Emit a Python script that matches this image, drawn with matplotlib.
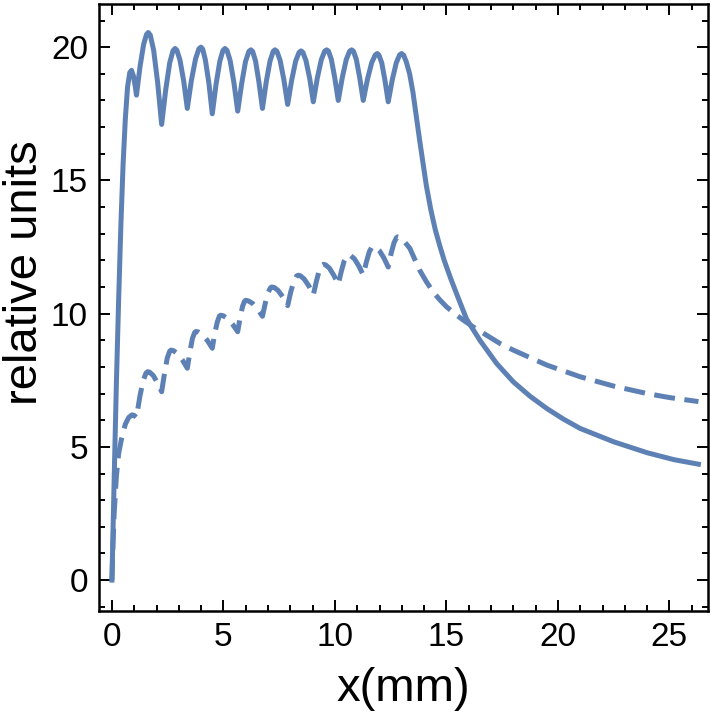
import matplotlib
matplotlib.use("Agg")
import matplotlib.pyplot as plt
from matplotlib.ticker import MultipleLocator

# solid curve
solid_x = [0, 0.1, 0.2, 0.3, 0.4, 0.5, 0.6, 0.7, 0.8, 0.88, 0.97, 1.05, 1.1,
           1.26, 1.42, 1.55, 1.63, 1.72, 1.87, 2.05, 2.23,
           2.41, 2.59, 2.74, 2.83, 2.91, 3.05, 3.22, 3.38,
           3.56, 3.75, 3.90, 3.99, 4.07, 4.19, 4.35, 4.5,
           4.67, 4.84, 4.98, 5.07, 5.16, 5.30, 5.47, 5.64,
           5.82, 5.99, 6.14, 6.23, 6.31, 6.44, 6.59, 6.75,
           6.92, 7.09, 7.23, 7.31, 7.40, 7.54, 7.71, 7.88,
           8.06, 8.24, 8.39, 8.48, 8.56, 8.70, 8.87, 9.03,
           9.21, 9.39, 9.54, 9.63, 9.71, 9.84, 9.99, 10.15,
           10.33, 10.51, 10.66, 10.75, 10.83, 10.96, 11.11, 11.27,
           11.46, 11.65, 11.81, 11.9, 11.97, 12.10, 12.24, 12.39,
           12.57, 12.75, 12.90, 12.99,
           13.08, 13.2, 13.35, 13.5, 13.65, 13.8, 13.95, 14.1, 14.3, 14.5,
           14.7, 14.9, 15.2, 15.5, 15.9, 16.5, 17.25, 18.0, 18.75, 19.5,
           20.25, 21.0, 22.5, 24.0, 25.2, 26.3]
solid_y = [0, 3.8, 7.4, 10.5, 13.3, 15.6, 17.3, 18.5, 19.05, 19.13, 18.9, 18.5, 18.2,
           19.27, 20.10, 20.48, 20.55, 20.45, 19.89, 18.67, 17.1,
           18.39, 19.41, 19.87, 19.95, 19.89, 19.52, 18.72, 17.7,
           18.74, 19.56, 19.94, 20.0, 19.93, 19.52, 18.64, 17.5,
           18.61, 19.48, 19.88, 19.95, 19.88, 19.50, 18.67, 17.6,
           18.64, 19.46, 19.84, 19.9, 19.84, 19.48, 18.70, 17.7,
           18.70, 19.48, 19.84, 19.9, 19.84, 19.51, 18.78, 17.85,
           18.76, 19.48, 19.80, 19.86, 19.81, 19.50, 18.82, 17.95,
           18.84, 19.53, 19.85, 19.9, 19.85, 19.54, 18.86, 18.0,
           18.86, 19.54, 19.85, 19.9, 19.85, 19.54, 18.86, 18.0,
           18.80, 19.42, 19.71, 19.76, 19.71, 19.41, 18.77, 17.95,
           18.77, 19.41, 19.71, 19.76,
           19.70, 19.45, 19.0, 18.3, 17.4, 16.5, 15.65, 14.8, 13.9, 13.15,
           12.55, 12.0, 11.3, 10.65, 9.8, 9.0, 8.13, 7.44, 6.9, 6.44,
           6.04, 5.69, 5.19, 4.78, 4.52, 4.35]

# dashed curve
dashed_x = [0, 0.05, 0.1, 0.2, 0.3, 0.43, 0.6, 0.75, 0.9, 1.0, 1.1,
            1.25, 1.40, 1.53, 1.6, 1.69, 1.85, 2.04, 2.23,
            2.36, 2.48, 2.59, 2.65, 2.76, 2.94, 3.16, 3.38,
            3.50, 3.61, 3.71, 3.77, 3.88, 4.06, 4.28, 4.5,
            4.61, 4.73, 4.82, 4.88, 4.99, 5.18, 5.41, 5.64,
            5.75, 5.86, 5.95, 6.0, 6.11, 6.30, 6.53, 6.75,
            6.88, 7.00, 7.11, 7.17, 7.28, 7.45, 7.67, 7.88,
            8.02, 8.16, 8.28, 8.35, 8.45, 8.62, 8.83, 9.03,
            9.17, 9.30, 9.41, 9.48, 9.58, 9.75, 9.95, 10.15,
            10.29, 10.42, 10.53, 10.6, 10.70, 10.87, 11.07, 11.27,
            11.41, 11.54, 11.65, 11.72, 11.82, 11.99, 12.19, 12.39,
            12.52, 12.65, 12.76, 12.82,
            12.95, 13.1, 13.36, 13.6, 13.8, 14.1, 14.4, 14.7, 15.0, 15.4,
            15.75, 16.2, 16.8, 17.4, 18.0, 19.5, 21.0, 22.5, 24.0, 25.0, 26.3]
dashed_y = [0, 1.4, 2.5, 3.9, 4.75, 5.3, 5.85, 6.1, 6.2, 6.18, 6.1,
            6.88, 7.49, 7.77, 7.82, 7.80, 7.68, 7.41, 7.07,
            7.78, 8.33, 8.59, 8.63, 8.61, 8.50, 8.26, 7.95,
            8.58, 9.07, 9.29, 9.33, 9.31, 9.21, 8.99, 8.7,
            9.26, 9.70, 9.91, 9.94, 9.92, 9.82, 9.60, 9.32,
            9.86, 10.28, 10.47, 10.5, 10.48, 10.39, 10.17, 9.9,
            10.40, 10.79, 10.97, 11.0, 10.98, 10.87, 10.62, 10.3,
            10.82, 11.22, 11.41, 11.44, 11.42, 11.30, 11.04, 10.7,
            11.22, 11.63, 11.82, 11.85, 11.83, 11.71, 11.44, 11.1,
            11.60, 11.99, 12.17, 12.2, 12.18, 12.06, 11.79, 11.45,
            11.94, 12.32, 12.49, 12.52, 12.50, 12.37, 12.10, 11.75,
            12.26, 12.66, 12.85, 12.88,
            12.85, 12.72, 12.45, 12.0, 11.63, 11.2, 10.82, 10.52, 10.26, 9.98,
            9.76, 9.5, 9.19, 8.88, 8.63, 8.07, 7.63, 7.28, 7.0, 6.85, 6.7]

x_ticks = [0, 5, 10, 15, 20, 25]
y_ticks = [0, 5, 10, 15, 20]

plt.rcParams['font.family'] = ['Liberation Sans', 'DejaVu Sans']

fig = plt.figure(figsize=(7.11, 7.2), dpi=100)
ax = fig.add_axes([99 / 711, 109 / 720, 609 / 711, 607 / 720])

blue = '#5e81b5'
ax.plot(solid_x, solid_y, color=blue, lw=3.6, solid_joinstyle='round')
ax.plot(dashed_x, dashed_y, color=blue, lw=3.6, dashes=(4.2, 1.9))

ax.set_xlim(-0.58, 26.73)
ax.set_ylim(-1.16, 21.62)
ax.set_xticks(x_ticks)
ax.set_yticks(y_ticks)
ax.xaxis.set_minor_locator(MultipleLocator(1))
ax.yaxis.set_minor_locator(MultipleLocator(1))
ax.tick_params(which='both', direction='in', top=True, right=True,
               width=1.4, colors='black', labelsize=24, pad=8)
ax.tick_params(which='major', length=8)
ax.tick_params(which='minor', length=4.5)
for s in ax.spines.values():
    s.set_linewidth(1.8)

ax.set_xlabel('x(mm)', fontsize=34, labelpad=10)
ax.set_ylabel('relative units', fontsize=34, va='center')
ax.yaxis.set_label_coords(-0.122, 0.558)

fig.savefig('out.png', dpi=100)
